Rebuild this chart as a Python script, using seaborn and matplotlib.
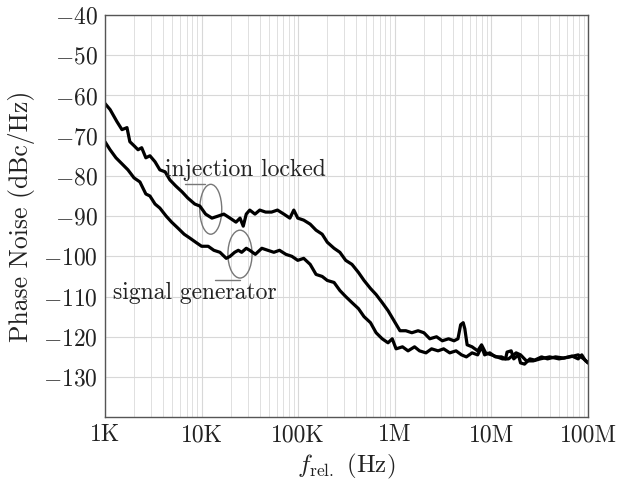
import numpy as np
import pandas as pd
import matplotlib
matplotlib.use("Agg")
import matplotlib.pyplot as plt
from matplotlib.patches import Ellipse
import seaborn as sns

f_inj = [1.0e3, 1.13e3, 1.33e3, 1.5e3, 1.69e3, 1.81e3, 2.0e3, 2.2e3, 2.4e3, 2.65e3,
         2.92e3, 3.3e3, 3.7e3, 4.2e3, 4.7e3, 5.4e3, 6.3e3, 7.2e3, 8.5e3, 9.6e3,
         1.1e4, 1.28e4, 1.48e4, 1.7e4, 1.97e4, 2.27e4, 2.5e4, 2.7e4, 2.9e4, 3.15e4,
         3.57e4, 4.0e4, 4.6e4, 5.3e4, 6.1e4, 7.1e4, 8.2e4, 9.0e4, 9.9e4, 1.14e5,
         1.33e5, 1.53e5, 1.77e5, 2.0e5, 2.35e5, 2.7e5, 3.1e5, 3.6e5, 4.2e5, 4.8e5,
         5.6e5, 6.4e5, 7.4e5, 8.5e5, 9.8e5, 1.13e6, 1.3e6, 1.5e6, 1.74e6, 2.0e6,
         2.3e6, 2.7e6, 3.1e6, 3.6e6, 4.1e6, 4.5e6, 4.8e6, 5.1e6, 5.3e6, 5.6e6,
         6.3e6, 7.2e6, 7.9e6, 8.7e6, 1.0e7, 1.14e7, 1.3e7, 1.5e7, 1.8e7, 2.0e7,
         2.3e7, 2.7e7, 3.2e7, 4.0e7, 5.0e7, 6.5e7, 7.9e7, 9.0e7, 1.0e8]
pn_inj = [-62, -63.5, -66.5, -68.5, -68, -71.5, -72.5, -73.5, -73, -75.5,
          -75, -76.5, -78.5, -79, -81, -82.5, -84, -85.5, -87, -87.5,
          -89.5, -90.5, -90, -89.5, -90.5, -91.5, -90.5, -92.5, -89.5, -88.5,
          -89.5, -88.5, -89, -89, -88.5, -89.5, -90.5, -88.5, -90.5, -91,
          -92, -93.5, -94.5, -96.5, -98, -99, -101, -102, -104, -106,
          -108, -109.5, -111.5, -113.5, -116, -118.5, -118.5, -119, -118.5, -119,
          -120.5, -120, -121, -120.5, -121, -120.5, -117, -116.5, -118, -122,
          -122.5, -123.5, -122, -124, -124.5, -125, -125.5, -125.5, -124, -124.5,
          -126, -126, -125.5, -125, -125.5, -125, -124.5, -125.5, -126.5]

f_sig = [1.0e3, 1.13e3, 1.3e3, 1.5e3, 1.73e3, 2.0e3, 2.3e3, 2.65e3, 2.92e3, 3.3e3,
         3.7e3, 4.3e3, 4.9e3, 5.7e3, 6.6e3, 7.6e3, 8.7e3, 1.0e4, 1.17e4, 1.34e4,
         1.55e4, 1.8e4, 1.97e4, 2.2e4, 2.4e4, 2.6e4, 2.9e4, 3.15e4, 3.6e4, 4.2e4,
         4.85e4, 5.6e4, 6.4e4, 7.45e4, 8.6e4, 9.9e4, 1.14e5, 1.33e5, 1.53e5, 1.77e5,
         2.0e5, 2.35e5, 2.7e5, 3.1e5, 3.6e5, 4.2e5, 4.8e5, 5.6e5, 6.4e5, 7.4e5,
         8.5e5, 9.4e5, 1.03e6, 1.2e6, 1.37e6, 1.6e6, 1.8e6, 2.1e6, 2.4e6, 2.8e6,
         3.2e6, 3.7e6, 4.3e6, 4.9e6, 5.5e6, 6.3e6, 7.2e6, 7.9e6, 8.5e6, 9.6e6,
         1.1e7, 1.27e7, 1.4e7, 1.45e7, 1.6e7, 1.7e7, 1.9e7, 2.0e7, 2.2e7, 2.5e7,
         2.8e7, 3.3e7, 3.8e7, 4.6e7, 5.6e7, 6.8e7, 7.9e7, 8.6e7, 9.3e7, 1.0e8]
pn_sig = [-71.5, -73.5, -75.5, -77, -78.5, -80.5, -81.5, -84.5, -85, -87,
          -88, -90, -91.5, -93, -94.5, -95.5, -96.5, -97.5, -97.5, -98.5,
          -99, -100.5, -100, -99, -98.5, -99, -98, -98.5, -99.5, -98,
          -98.5, -99, -98.5, -99.5, -100, -101, -100.5, -102, -104.5, -105,
          -106, -106.5, -108.5, -110, -111.5, -113, -115, -116.5, -119, -120.5,
          -121.5, -120.5, -123, -122.5, -123.5, -122.5, -123.5, -124, -123, -123.5,
          -123, -124, -123.5, -124.5, -125, -124, -124.5, -122.5, -124.5, -124,
          -125, -125, -125.5, -123.8, -123.5, -125.5, -124.5, -126.5, -126.8, -125.5,
          -125.8, -125, -125.5, -125, -125.3, -124.8, -125.5, -124.5, -125.8, -126.5]

y_ticks = [-40, -50, -60, -70, -80, -90, -100, -110, -120, -130]
x_ticks = [1e3, 1e4, 1e5, 1e6, 1e7, 1e8]
x_labels = ["1K", "10K", "100K", "1M", "10M", "100M"]

sns.set_theme(style="whitegrid")
plt.rcParams["font.family"] = "serif"
plt.rcParams["font.serif"] = ["cmr10"]
plt.rcParams["mathtext.fontset"] = "cm"
plt.rcParams["axes.formatter.use_mathtext"] = True

df_inj = pd.DataFrame({"f": f_inj, "pn": pn_inj})
df_sig = pd.DataFrame({"f": f_sig, "pn": pn_sig})

fig = plt.figure(figsize=(6.21, 4.84), dpi=100)
ax = fig.add_axes([0.169, 0.138, 0.778, 0.831])

sns.lineplot(data=df_inj, x="f", y="pn", ax=ax, color="black", lw=2.3, sort=False)
sns.lineplot(data=df_sig, x="f", y="pn", ax=ax, color="black", lw=2.3, sort=False)

ax.set_xscale("log")
ax.set_xlim(1e3, 1e8)
ax.set_ylim(-140, -40)
ax.set_xticks(x_ticks)
ax.set_xticklabels(x_labels)
ax.set_yticks(y_ticks)
ax.set_yticklabels(["$-%d$" % abs(v) for v in y_ticks])
ax.tick_params(axis="both", labelsize=17, length=0, pad=5, labelcolor="#222222")

ax.grid(True, which="major", color="#d8d8d8", lw=0.8)
ax.grid(True, which="minor", axis="x", color="#e0e0e0", lw=0.7)
for s in ax.spines.values():
    s.set_color("#555555")
    s.set_linewidth(1.0)

ax.set_ylabel("Phase Noise (dBc/Hz)", fontsize=18.5, color="#222222", labelpad=6)
ax.set_xlabel(r"$f_{\mathrm{rel.}}$ (Hz)", fontsize=18, color="#222222", labelpad=4)

# annotations
ax.text(0.124, 0.614, "injection locked", transform=ax.transAxes, fontsize=17,
        va="center", color="#222222")
ax.text(0.017, 0.308, "signal generator", transform=ax.transAxes, fontsize=17,
        va="center", color="#222222")
ax.add_patch(Ellipse((0.219, 0.517), 0.0455, 0.124, transform=ax.transAxes,
                     fill=False, ec="#777777", lw=1.0))
ax.add_patch(Ellipse((0.2795, 0.4055), 0.05, 0.119, transform=ax.transAxes,
                     fill=False, ec="#777777", lw=1.0))
ax.plot([0.166, 0.207], [0.580, 0.580], transform=ax.transAxes, color="#777777", lw=1.0)
ax.plot([0.228, 0.280], [0.341, 0.341], transform=ax.transAxes, color="#777777", lw=1.0)

fig.savefig("out.png", dpi=100)
